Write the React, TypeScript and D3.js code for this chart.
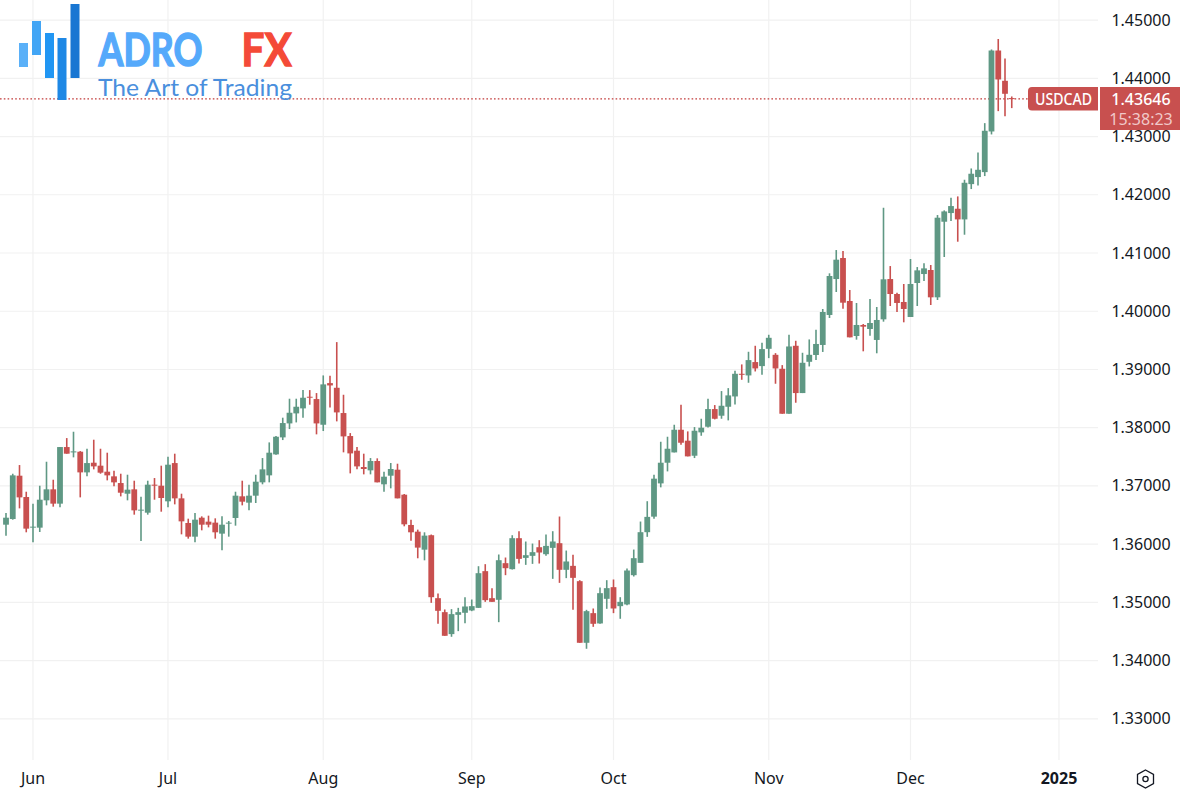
import React from "react";
import * as d3 from "d3";

const opens = [
  1.36335,1.36432,1.37176,1.36810,1.36284,1.36284,1.36753,1.36942,1.36696,1.37668,
  1.37576,1.37588,1.37233,1.37399,1.37348,1.37245,1.37165,1.37050,1.36867,1.36942,
  1.36581,1.36541,1.37022,1.37004,1.36736,1.37393,1.36787,1.36364,1.36129,1.36455,
  1.36387,1.36370,1.36181,1.36358,1.36450,1.36822,1.36713,1.36833,1.37062,1.37182,
  1.37542,1.37834,1.38074,1.38246,1.38332,1.38532,1.38492,1.38051,1.38766,1.38686,
  1.38252,1.37857,1.37605,1.37325,1.37268,1.37428,1.37028,1.37176,1.37279,1.36850,
  1.36330,1.36215,1.35906,1.36154,1.35073,1.34833,1.34456,1.34787,1.34822,1.34862,
  1.34907,1.35537,1.35073,1.35045,1.35674,1.35571,1.36103,1.35765,1.35800,1.35948,
  1.35828,1.35937,1.36017,1.35560,1.35628,1.35365,1.34307,1.34816,1.34639,1.35062,
  1.35262,1.34936,1.34965,1.35468,1.35680,1.36206,1.36473,1.37044,1.37399,1.37576,
  1.37965,1.37777,1.37519,1.37920,1.38017,1.38320,1.38206,1.38360,1.38537,1.38926,
  1.38898,1.39127,1.39058,1.39355,1.39252,1.39012,1.38240,1.39407,1.38595,1.39132,
  1.39249,1.39421,1.39936,1.40553,1.40914,1.40176,1.39575,1.39764,1.39695,1.39507,
  1.39861,1.40553,1.40296,1.40159,1.39901,1.40485,1.40639,1.40708,1.40239,1.41537,
  1.41686,1.41760,1.41577,1.42183,1.42304,1.42389,1.43087,1.44477,1.43957,1.43660,
];
const closes = [
  1.36455,1.37182,1.36804,1.36267,1.36301,1.36764,1.36942,1.36696,1.37668,1.37554,
  1.37594,1.37233,1.37393,1.37336,1.37228,1.37182,1.37062,1.36884,1.36936,1.36581,
  1.36593,1.37022,1.37010,1.36793,1.37365,1.36787,1.36392,1.36129,1.36421,1.36335,
  1.36335,1.36204,1.36335,1.36370,1.36833,1.36730,1.36833,1.37073,1.37285,1.37571,
  1.37845,1.38080,1.38257,1.38360,1.38515,1.38515,1.38074,1.38744,1.38726,1.38263,
  1.37851,1.37559,1.37336,1.37291,1.37428,1.37062,1.37159,1.37291,1.36787,1.36341,
  1.36204,1.35941,1.36147,1.35090,1.34856,1.34427,1.34799,1.34833,1.34930,1.34936,
  1.35502,1.35039,1.35010,1.35725,1.35588,1.36103,1.35748,1.35811,1.35863,1.35857,
  1.35971,1.36046,1.35560,1.35703,1.35422,1.34307,1.34850,1.34633,1.35159,1.35245,
  1.34896,1.35010,1.35548,1.35760,1.36206,1.36469,1.37125,1.37399,1.37639,1.37965,
  1.37742,1.37508,1.37948,1.38000,1.38320,1.38154,1.38377,1.38555,1.38926,1.38909,
  1.39161,1.39018,1.39350,1.39544,1.39018,1.38240,1.39395,1.38595,1.39115,1.39252,
  1.39438,1.39987,1.40605,1.40885,1.40147,1.39552,1.39764,1.39735,1.39798,1.39850,
  1.40548,1.40296,1.40142,1.40039,1.40468,1.40702,1.40736,1.40239,1.41606,1.41714,
  1.41806,1.41577,1.42206,1.42361,1.42429,1.43099,1.44477,1.43980,1.43734,1.43646,
];
const highs = [
  1.36535,1.37210,1.37359,1.36901,1.36696,1.37004,1.37416,1.37107,1.37668,1.37822,
  1.37931,1.37599,1.37639,1.37794,1.37639,1.37571,1.37262,1.37210,1.37193,1.37090,
  1.36816,1.37090,1.37136,1.37348,1.37502,1.37554,1.36867,1.36438,1.36535,1.36478,
  1.36490,1.36444,1.36478,1.36398,1.36901,1.37090,1.37022,1.37193,1.37479,1.37748,
  1.37857,1.38172,1.38498,1.38498,1.38646,1.38646,1.38595,1.38898,1.38892,1.39470,
  1.38566,1.37908,1.37668,1.37554,1.37479,1.37474,1.37245,1.37394,1.37382,1.36862,
  1.36421,1.36250,1.36204,1.36166,1.35153,1.34879,1.34885,1.34907,1.35090,1.35050,
  1.35622,1.35657,1.35245,1.35823,1.35771,1.36154,1.36223,1.36046,1.36011,1.36069,
  1.36166,1.36223,1.36475,1.35891,1.35817,1.35382,1.34873,1.34896,1.35256,1.35382,
  1.35394,1.35090,1.35582,1.35908,1.36389,1.36738,1.37193,1.37759,1.37845,1.38051,
  1.38394,1.37937,1.38011,1.38154,1.38497,1.38389,1.38629,1.38680,1.38978,1.39087,
  1.39304,1.39407,1.39458,1.39596,1.39281,1.39075,1.39596,1.39493,1.39287,1.39516,
  1.39681,1.40039,1.40651,1.41051,1.41034,1.40365,1.40142,1.39781,1.40210,1.40073,
  1.41777,1.40776,1.40319,1.40468,1.40897,1.40759,1.40822,1.40794,1.41652,1.41732,
  1.41949,1.41972,1.42258,1.42452,1.42727,1.43230,1.44495,1.44675,1.44340,1.43688,
];
const lows = [
  1.36146,1.36421,1.36615,1.36204,1.36032,1.36209,1.36667,1.36644,1.36633,1.37554,
  1.37491,1.36804,1.37165,1.37285,1.37210,1.37096,1.36993,1.36821,1.36753,1.36507,
  1.36055,1.36507,1.36764,1.36558,1.36633,1.36684,1.36169,1.36095,1.36032,1.36238,
  1.36289,1.36095,1.35895,1.36129,1.36318,1.36667,1.36581,1.36707,1.37028,1.37062,
  1.37537,1.37788,1.37977,1.38091,1.38172,1.38395,1.37886,1.37943,1.38349,1.38109,
  1.37577,1.37216,1.37285,1.37199,1.37199,1.37062,1.36902,1.36959,1.36787,1.36307,
  1.36061,1.35758,1.35723,1.34993,1.34633,1.34427,1.34410,1.34507,1.34644,1.34850,
  1.34907,1.35010,1.35010,1.34661,1.35468,1.35565,1.35668,1.35645,1.35662,1.35668,
  1.35800,1.35405,1.35336,1.35417,1.34873,1.34307,1.34204,1.34581,1.34633,1.34890,
  1.34816,1.34719,1.34953,1.35445,1.35680,1.36126,1.36438,1.36976,1.37250,1.37576,
  1.37708,1.37508,1.37479,1.37862,1.38005,1.38143,1.38154,1.38126,1.38400,1.38823,
  1.38772,1.38966,1.38909,1.39195,1.38755,1.38240,1.38240,1.38429,1.38595,1.39052,
  1.39163,1.39301,1.39884,1.40330,1.40044,1.39552,1.39512,1.39312,1.39581,1.39278,
  1.39821,1.40090,1.39987,1.39810,1.39901,1.40090,1.40519,1.40107,1.40193,1.40931,
  1.41549,1.41194,1.41314,1.42098,1.42161,1.42321,1.43036,1.43436,1.43350,1.43488,
];

const priceTicks = [1.33, 1.34, 1.35, 1.36, 1.37, 1.38, 1.39, 1.4, 1.41, 1.42, 1.43, 1.44, 1.45];
const monthLabels = ["Jun", "Jul", "Aug", "Sep", "Oct", "Nov", "Dec", "2025"];
const monthBars = [4, 24, 47, 69, 90, 113, 134, 156];
const lastPrice = 1.43646;
const symbol = "USDCAD";
const countdown = "15:38:23";

const UP = "#5f9884";
const DOWN = "#c8504f";
const GRID = "#f1f1f1";
const TEXT = "#131722";
const FONT = "'Noto Sans', sans-serif";

const x = d3.scaleLinear().domain([0, 149]).range([6, 1011.75]);
const y = d3.scaleLinear().domain([1.33, 1.45]).range([718.9, 20.06]);

const logoBars = [
  { x: 19, y: 43, w: 9, h: 24, c: "#5ab0f8" },
  { x: 32, y: 21, w: 9, h: 34, c: "#42a5f5" },
  { x: 45, y: 33, w: 9, h: 45, c: "#2196f3" },
  { x: 57.5, y: 38, w: 9, h: 62, c: "#1e88e5" },
  { x: 70.5, y: 4, w: 9, h: 74, c: "#1976d2" },
];

export default function App() {
  const py = y(lastPrice);
  return (
    <svg
      width={1180}
      height={792}
      viewBox="0 0 1180 792"
      style={{ position: "absolute", left: 0, top: 0, background: "#fff" }}
    >
      <g>
        {priceTicks.map((t) => (
          <line key={t} x1={0} x2={1098} y1={y(t)} y2={y(t)} stroke={GRID} strokeWidth={1.2} />
        ))}
        {monthBars.map((b) => (
          <line key={b} x1={x(b)} x2={x(b)} y1={0} y2={760} stroke={GRID} strokeWidth={1.2} />
        ))}
      </g>

      <line x1={0} x2={1028} y1={py} y2={py} stroke="#c23b3a" strokeWidth={1.2} strokeDasharray="1.6 2.2" />

      <g>
        {opens.map((o, i) => {
          const c = closes[i];
          const col = c >= o ? UP : DOWN;
          const top = y(Math.max(o, c));
          const bot = y(Math.min(o, c));
          return (
            <g key={i}>
              <line x1={x(i)} x2={x(i)} y1={y(highs[i])} y2={y(lows[i])} stroke={col} strokeWidth={1.6} />
              <rect x={x(i) - 2.9} y={top} width={5.8} height={Math.max(bot - top, 1)} fill={col} />
            </g>
          );
        })}
      </g>

      <g>
        {logoBars.map((b) => (
          <rect key={b.x} x={b.x} y={b.y} width={b.w} height={b.h} fill={b.c} />
        ))}
        <text x={98.5} y={65.5} fontFamily="Lato, sans-serif" fontWeight={700} fontSize={46} fill="#55a9fb" stroke="#55a9fb" strokeWidth={1.4} textLength={104} lengthAdjust="spacingAndGlyphs">ADRO</text>
        <text x={241.5} y={65.5} fontFamily="Lato, sans-serif" fontWeight={700} fontSize={46} fill="#f44a37" stroke="#f44a37" strokeWidth={1.4} textLength={50} lengthAdjust="spacingAndGlyphs">FX</text>
        <text x={98} y={96} fontFamily="Lato, sans-serif" fontWeight={400} fontSize={24} fill="#4a8fdd" textLength={194} lengthAdjust="spacingAndGlyphs">The Art of Trading</text>
      </g>

      <g fontFamily={FONT} fontSize={16} fill={TEXT}>
        {priceTicks.map((t) => (
          <text key={t} x={1141} y={y(t) + 5.5} textAnchor="middle">{t.toFixed(5)}</text>
        ))}
        {monthLabels.map((m, i) => (
          <text key={m} x={x(monthBars[i])} y={784} textAnchor="middle" fontWeight={m === "2025" ? 700 : 400}>{m}</text>
        ))}
      </g>

      <path d="M1032,87 H1098 V110.5 H1032 A4,4 0 0 1 1028,106.5 V91 A4,4 0 0 1 1032,87 Z" fill={DOWN} />
      <text x={1063.5} y={104.5} textAnchor="middle" fontFamily={FONT} fontWeight={500} fontSize={16} fill="#fff" textLength={57} lengthAdjust="spacingAndGlyphs">{symbol}</text>
      <rect x={1100} y={87} width={80} height={43} fill={DOWN} />
      <text x={1141} y={105} textAnchor="middle" fontFamily={FONT} fontWeight={500} fontSize={16} fill="#fff">{lastPrice.toFixed(5)}</text>
      <text x={1141} y={125} textAnchor="middle" fontFamily={FONT} fontSize={16} fill="#f0c9c9">{countdown}</text>

      <g fill="none" stroke={TEXT} strokeWidth={1.3}>
        <path d="M1145.5,770 L1153.5,774.5 V783.5 L1145.5,788 L1137.5,783.5 V774.5 Z" />
        <circle cx={1145.5} cy={779} r={2.6} />
      </g>
    </svg>
  );
}
